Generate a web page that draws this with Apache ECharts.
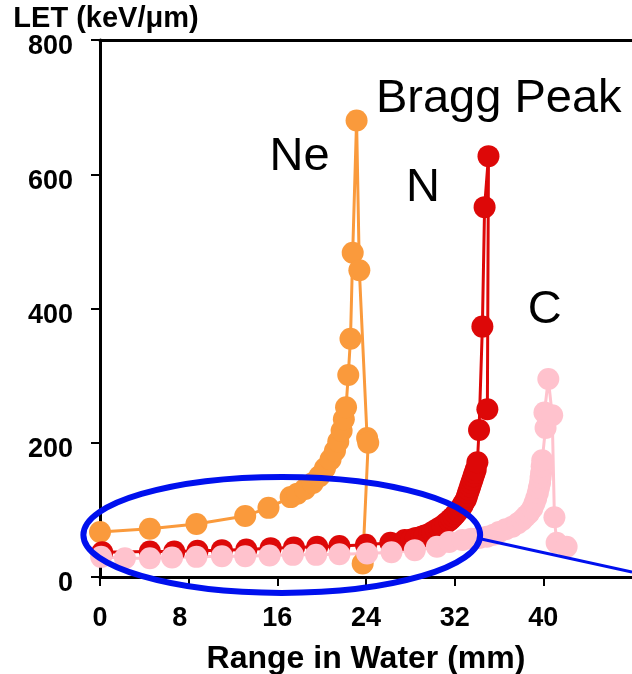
<!DOCTYPE html>
<html>
<head>
<meta charset="utf-8">
<script src="https://cdn.jsdelivr.net/npm/echarts@6/dist/echarts.min.js"></script>
<style>
  html, body { margin: 0; padding: 0; background: #fff; }
  #chart { width: 632px; height: 674px; }
</style>
</head>
<body>
<div id="chart"></div>
<script>
// Ne beam
const neRange = [0, 4.5, 8.7, 13.1, 15.2, 17.2, 17.8, 18.5, 19.2, 19.8, 20.3, 20.8, 21.2, 21.5, 21.8, 22.0, 22.2, 22.4, 22.6, 22.8, 23.15, 23.4, 24.1, 24.2, 23.7];
const neLET = [67, 72, 79, 91, 103, 119, 124, 131, 140, 150, 162, 175, 188, 202, 218, 235, 253, 301, 355, 483, 680, 457, 207, 200, 20];

// N beam
const nRange = [0.2, 4.5, 6.7, 8.8, 11.0, 13.2, 15.4, 17.5, 19.6, 21.6, 24.0, 26.2, 27.5, 28.1, 28.5, 29.0, 29.3, 29.7, 30.0, 30.3, 30.6, 30.9, 31.2, 31.5, 31.7, 31.9, 32.1, 32.3, 32.5, 32.7, 32.8, 33.0, 33.1, 33.2, 33.3, 33.4, 33.5, 33.6, 33.7, 33.8, 33.9, 34.05, 34.2, 34.5, 34.7, 35.05, 34.95];
const nLET = [37, 38, 38, 39, 40, 41, 43, 44, 45, 46, 48, 51, 55, 56, 58, 60, 62, 64, 67, 70, 73, 76, 80, 84, 87, 90, 94, 98, 102, 106, 110, 115, 120, 125, 130, 135, 140, 145, 150, 155, 160, 171, 219, 373, 551, 627, 250];

// C beam
const cRange = [0.1, 2.25, 4.5, 6.5, 8.7, 11.0, 13.1, 15.3, 17.4, 19.5, 21.6, 24.1, 26.3, 28.4, 30.4, 31.5, 32.7, 33.5, 34.2, 34.9, 35.5, 36.0, 36.6, 37.2, 37.7, 38.1, 38.4, 38.7, 39.0, 39.2, 39.35, 39.5, 39.6, 39.7, 39.75, 39.8, 39.85, 39.9, 40.2, 40.1, 40.45, 40.8, 41.0, 41.2, 42.1];
const cLET = [30, 28, 28, 29, 30, 31, 31, 32, 33, 33, 34, 35, 37, 40, 45, 52, 55, 57, 58, 60, 63, 67, 71, 75, 80, 85, 90, 95, 102, 110, 117, 125, 133, 140, 148, 155, 165, 174, 222, 245, 295, 241, 89, 51, 45];

const xTicks = [0, 8, 16, 24, 32, 40];
const yTicks = [0, 200, 400, 600, 800];

// annotation anchors in data units
const labels = [
  { text: 'Bragg Peak', at: [24.9, 712] },
  { text: 'Ne', at: [15.3, 625] },
  { text: 'N', at: [27.6, 580] },
  { text: 'C', at: [38.6, 397] }
];
const ellipseCenter = [16.4, 62.6];
const ellipseRadius = [17.9, 86.4];
const pointerLine = [[34.3, 57], [48, 7.5]];

const FONT = '"Liberation Sans", Arial, sans-serif';

function pairs(xs, ys) {
  return xs.map((x, i) => [x, ys[i]]);
}

function beam(name, xs, ys, color) {
  return {
    name: name,
    type: 'line',
    data: pairs(xs, ys),
    symbol: 'circle',
    symbolSize: 22,
    showSymbol: true,
    itemStyle: { color: color },
    lineStyle: { color: color, width: 3 },
    emphasis: { disabled: true },
    animation: false
  };
}

const chart = echarts.init(document.getElementById('chart'));

chart.setOption({
  backgroundColor: '#fff',
  animation: false,
  grid: { left: 100, top: 40, right: 0, bottom: 97, outerBoundsMode: 'none', containLabel: false },
  xAxis: [{
    type: 'value',
    min: 0,
    max: 48,
    interval: 8,
    name: 'Range in Water (mm)',
    nameLocation: 'middle',
    nameGap: 66,
    nameTextStyle: { color: '#000', fontSize: 32, fontWeight: 'bold', fontFamily: FONT },
    axisLine: { show: true, lineStyle: { color: '#000', width: 3 } },
    axisTick: { show: true, inside: false, length: 9, lineStyle: { color: '#000', width: 2 } },
    axisLabel: {
      color: '#000', fontSize: 27, fontWeight: 'bold', fontFamily: FONT, margin: 28,
      showMaxLabel: false,
      formatter: v => (v === 8 ? '{l|8}' : (xTicks.indexOf(v) >= 0 ? String(v) : '')),
      rich: { l: { color: '#000', fontSize: 27, fontWeight: 'bold', fontFamily: FONT, padding: [0, 18, 0, 0] } }
    },
    splitLine: { show: false }
  }, {
    type: 'value',
    position: 'top',
    min: 0,
    max: 48,
    axisLine: { show: true, lineStyle: { color: '#000', width: 3 } },
    axisTick: { show: false },
    axisLabel: { show: false },
    splitLine: { show: false }
  }],
  yAxis: {
    type: 'value',
    min: 0,
    max: 800,
    interval: 200,
    name: 'LET (keV/μm)',
    nameLocation: 'end',
    nameGap: 3,
    nameTextStyle: { color: '#000', fontSize: 29, fontWeight: 'bold', fontFamily: FONT, align: 'center', padding: [0, 0, 0, 12] },
    axisLine: { show: true, lineStyle: { color: '#000', width: 3 } },
    axisTick: { show: true, inside: false, length: 9, lineStyle: { color: '#000', width: 2 } },
    axisLabel: {
      color: '#000', fontSize: 27, fontWeight: 'bold', fontFamily: FONT, margin: 27,
      verticalAlign: 'top',
      lineHeight: 14,
      formatter: v => (yTicks.indexOf(v) >= 0 ? String(v) : '')
    },
    splitLine: { show: false }
  },
  series: [
    beam('Ne', neRange, neLET, '#FA9A3C'),
    beam('N', nRange, nLET, '#DD0808'),
    beam('C', cRange, cLET, '#FFC2CD')
  ]
});

// annotations placed through the grid's own coordinate system
const toPx = p => chart.convertToPixel({ gridIndex: 0 }, p);
const c = toPx(ellipseCenter);
const edge = toPx([ellipseCenter[0] + ellipseRadius[0], ellipseCenter[1] + ellipseRadius[1]]);
const p0 = toPx(pointerLine[0]);
const p1 = toPx(pointerLine[1]);

const graphics = labels.map(l => {
  const p = toPx(l.at);
  return {
    type: 'text',
    x: p[0],
    y: p[1],
    z: 100,
    style: {
      text: l.text,
      fill: '#000',
      font: '47px ' + FONT,
      textAlign: 'left',
      textVerticalAlign: 'middle'
    }
  };
});
graphics.push({
  type: 'line',
  z: 100,
  shape: { x1: p0[0], y1: p0[1], x2: p1[0], y2: p1[1] },
  style: { stroke: '#0010EE', lineWidth: 3 }
});
graphics.push({
  type: 'ellipse',
  z: 101,
  shape: { cx: c[0], cy: c[1], rx: edge[0] - c[0], ry: c[1] - edge[1] },
  style: { fill: 'none', stroke: '#0010EE', lineWidth: 6 }
});

chart.setOption({ graphic: graphics });
</script>
</body>
</html>
